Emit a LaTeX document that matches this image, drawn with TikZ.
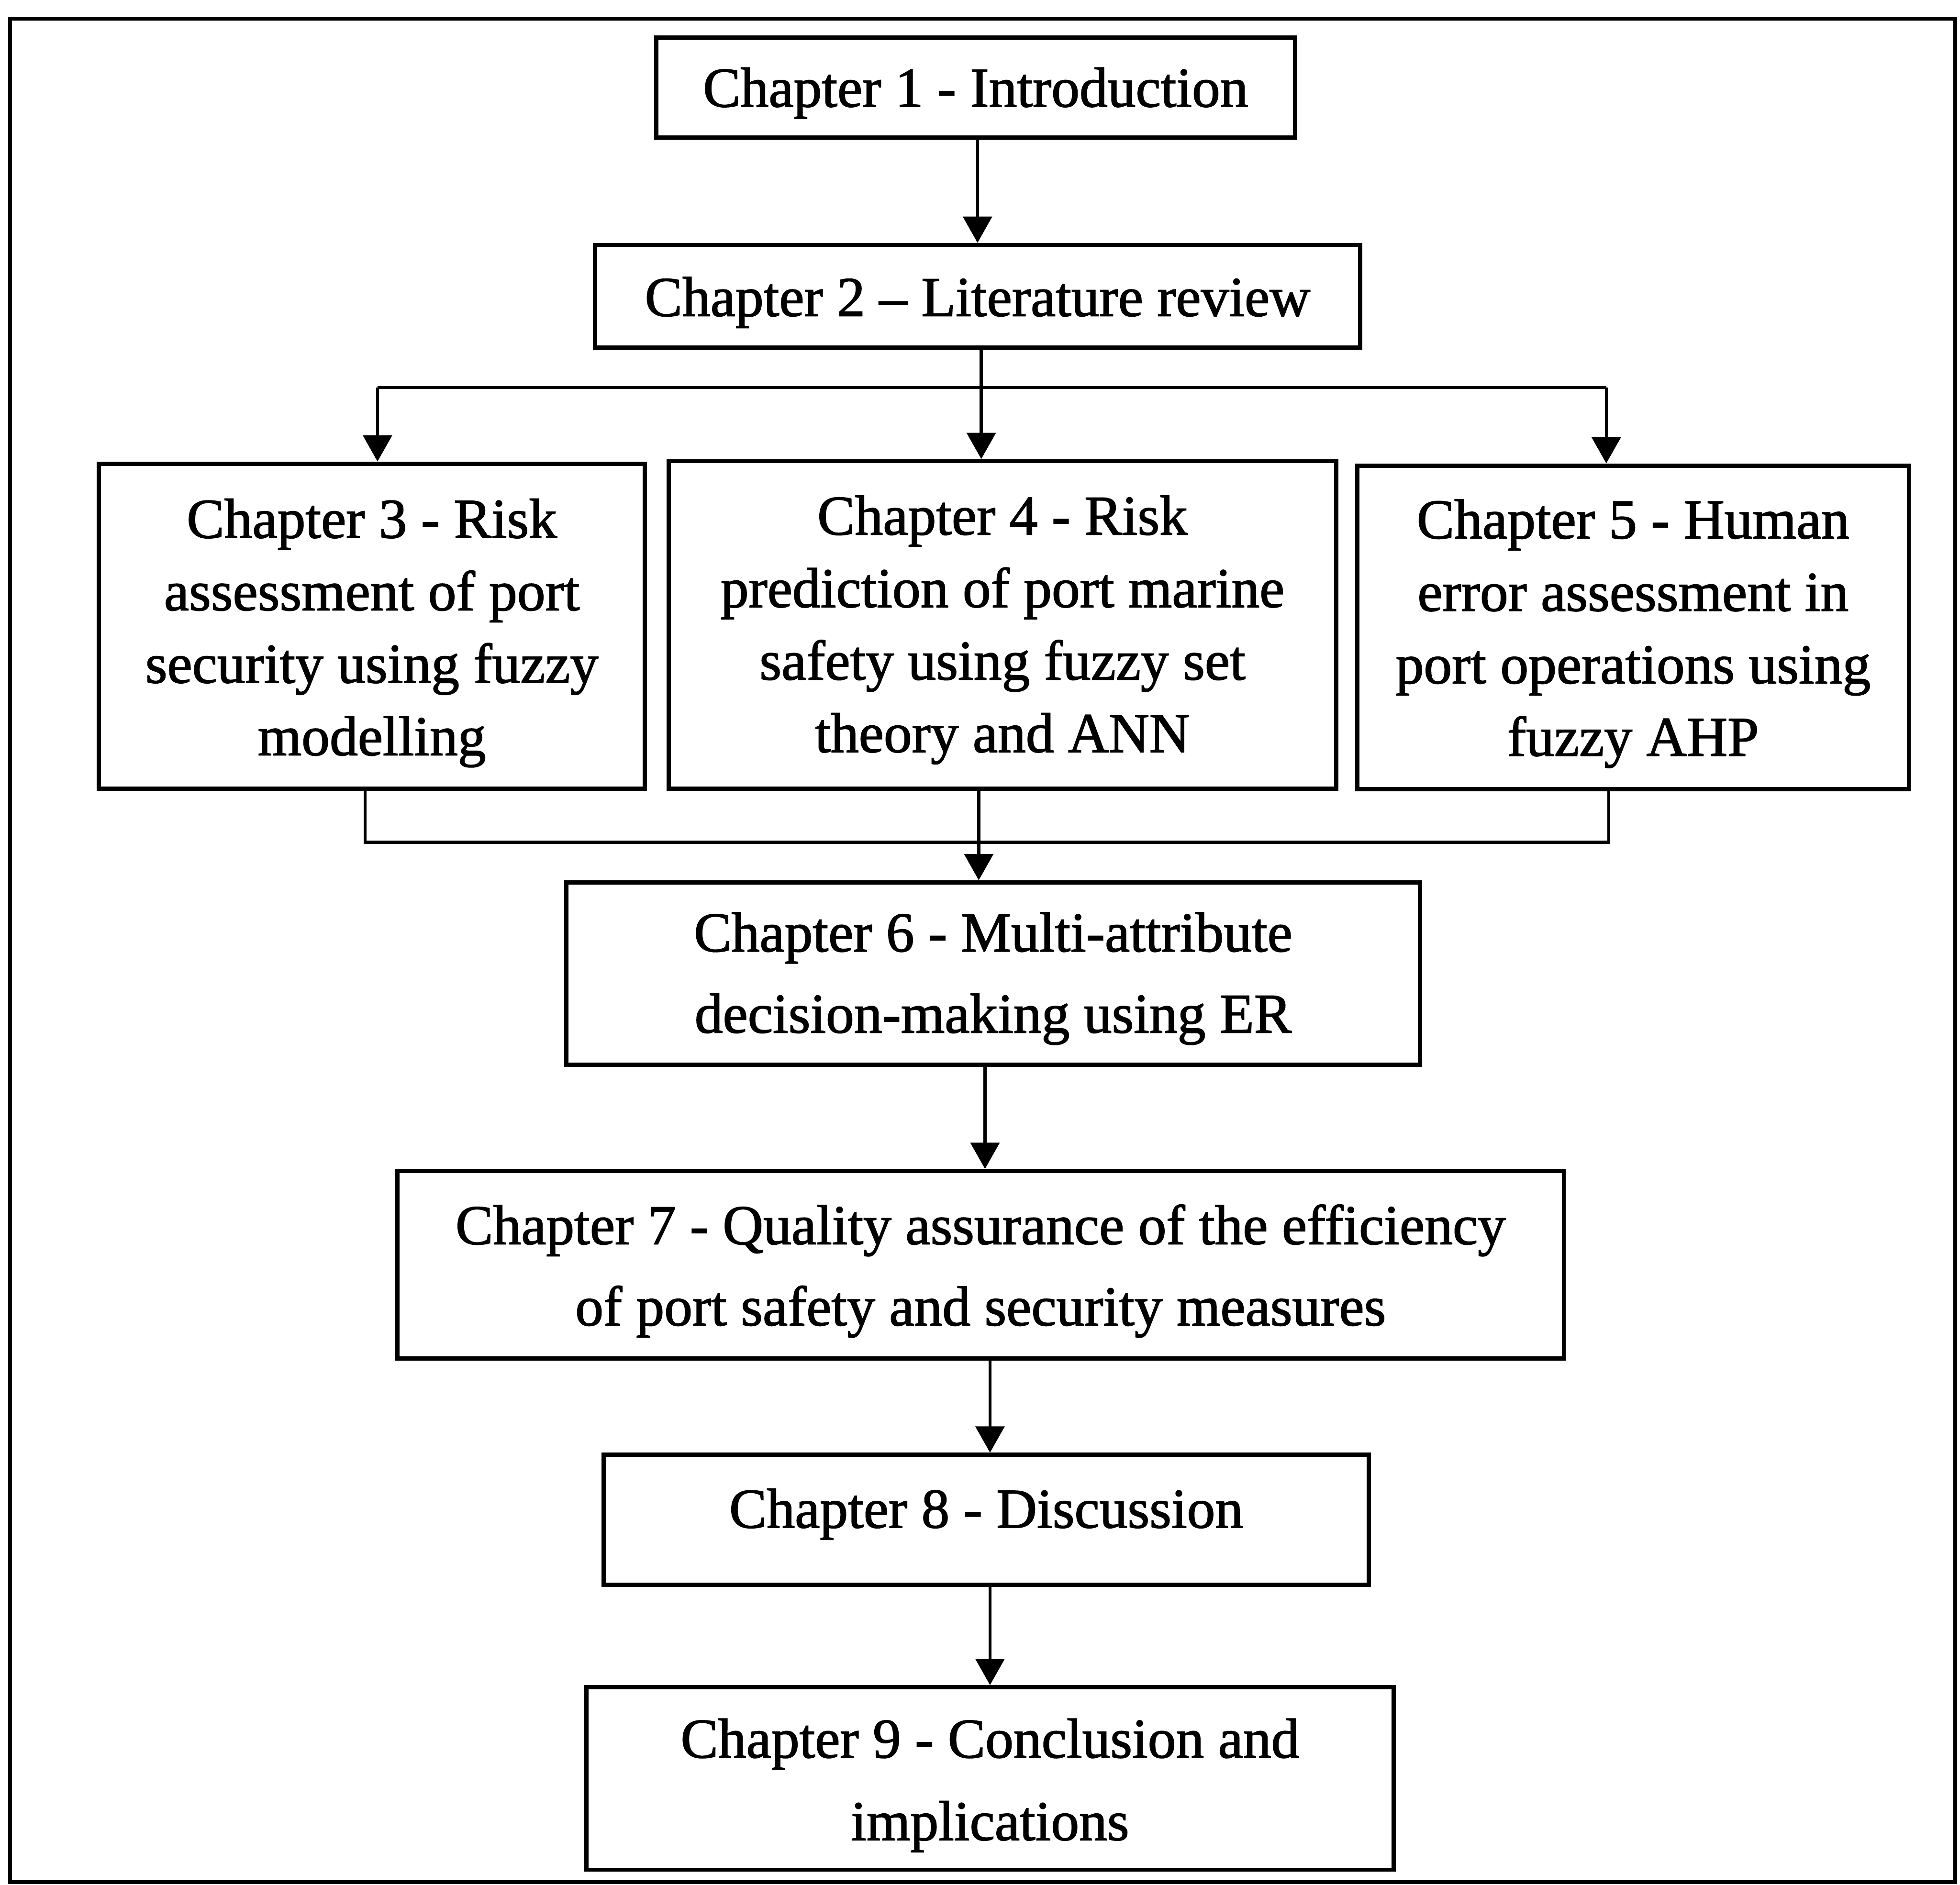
\documentclass[tikz,border=0pt]{standalone}
\usepackage{fontspec}
\setmainfont{Liberation Serif}[FakeBold=1.5]
\usetikzlibrary{arrows.meta}
\begin{document}
\begin{tikzpicture}[x=1pt,y=-1pt,
  box/.style={draw, line width=3.4pt, inner sep=0pt},
  txt/.style={inner sep=0pt, align=center, font=\fontsize{45}{58}\selectfont},
  wide/.style={font=\fontsize{45}{65}\selectfont},
  link/.style={line width=2.5pt},
  arr/.style={link, -{Triangle[width=23pt,length=21pt]}}]
\useasboundingbox (0,0) rectangle (1568,1508);
% outer frame
\draw[line width=3pt] (8,15) rectangle (1564,1506);

% chapter boxes
\node[box, minimum width=511pt, minimum height=80pt]  (c1) at (780.5,70) {};
\node[box, minimum width=612pt, minimum height=82pt]  (c2) at (782,237) {};
\node[box, minimum width=437pt, minimum height=260pt] (c3) at (297.5,501) {};
\node[box, minimum width=534pt, minimum height=262pt] (c4) at (802,500) {};
\node[box, minimum width=441pt, minimum height=259pt] (c5) at (1306.5,502) {};
\node[box, minimum width=683pt, minimum height=146pt] (c6) at (794.5,779) {};
\node[box, minimum width=933pt, minimum height=150pt] (c7) at (784.5,1012) {};
\node[box, minimum width=612pt, minimum height=104pt] (c8) at (789,1216) {};
\node[box, minimum width=646pt, minimum height=146pt] (c9) at (792,1423) {};

% chapter titles (yshift is in page direction: negative moves down)
\node[txt] (t1) at ([yshift=-4.5pt]c1.center) {Chapter 1 - Introduction};
\node[txt] (t2) at ([yshift=-5pt]c2.center) {Chapter 2 – Literature review};
\node[txt] (t3) at ([yshift=-5.5pt]c3.center)
  {Chapter 3 - Risk\\assessment of port\\security using fuzzy\\modelling};
\node[txt] (t4) at ([yshift=-4pt]c4.center)
  {Chapter 4 - Risk\\prediction of port marine\\safety using fuzzy set\\theory and ANN};
\node[txt] (t5) at ([yshift=-5pt]c5.center)
  {Chapter 5 - Human\\error assessment in\\port operations using\\fuzzy AHP};
\node[txt, wide] (t6) at ([yshift=-4pt]c6.center)
  {Chapter 6 - Multi-attribute\\decision-making using ER};
\node[txt, wide] (t7) at ([yshift=-5pt]c7.center)
  {Chapter 7 - Quality assurance of the efficiency\\of port safety and security measures};
\node[txt] (t8) at ([yshift=4.5pt]c8.center) {Chapter 8 - Discussion};
\node[txt, font=\fontsize{45}{66}\selectfont] (t9) at ([yshift=-5.5pt]c9.center)
  {Chapter 9 - Conclusion and\\implications};

% routing points
\coordinate (x12) at (782,0);
\coordinate (split) at (785,310);
\coordinate (bl) at (302,310);
\coordinate (br) at (1285,310);
\coordinate (ml) at (292,674);
\coordinate (mc) at (783,674);
\coordinate (mr) at (1287,674);
\coordinate (x67) at (788,0);
\coordinate (x78) at (792,0);
\coordinate (x89) at (792,0);

% connectors
\draw[arr] (x12 |- c1.south) -- (x12 |- c2.north);
\draw[arr] (split |- c2.south) -- (split |- c4.north);
\draw[link] (bl) -- (br);
\draw[arr] (bl) -- (bl |- c3.north);
\draw[arr] (br) -- (br |- c5.north);
\draw[link] (ml |- c3.south) -- (ml) -- (mr) -- (mr |- c5.south);
\draw[arr] (mc |- c4.south) -- (mc |- c6.north);
\draw[arr] (x67 |- c6.south) -- (x67 |- c7.north);
\draw[arr] (x78 |- c7.south) -- (x78 |- c8.north);
\draw[arr] (x89 |- c8.south) -- (x89 |- c9.north);
\end{tikzpicture}
\end{document}
